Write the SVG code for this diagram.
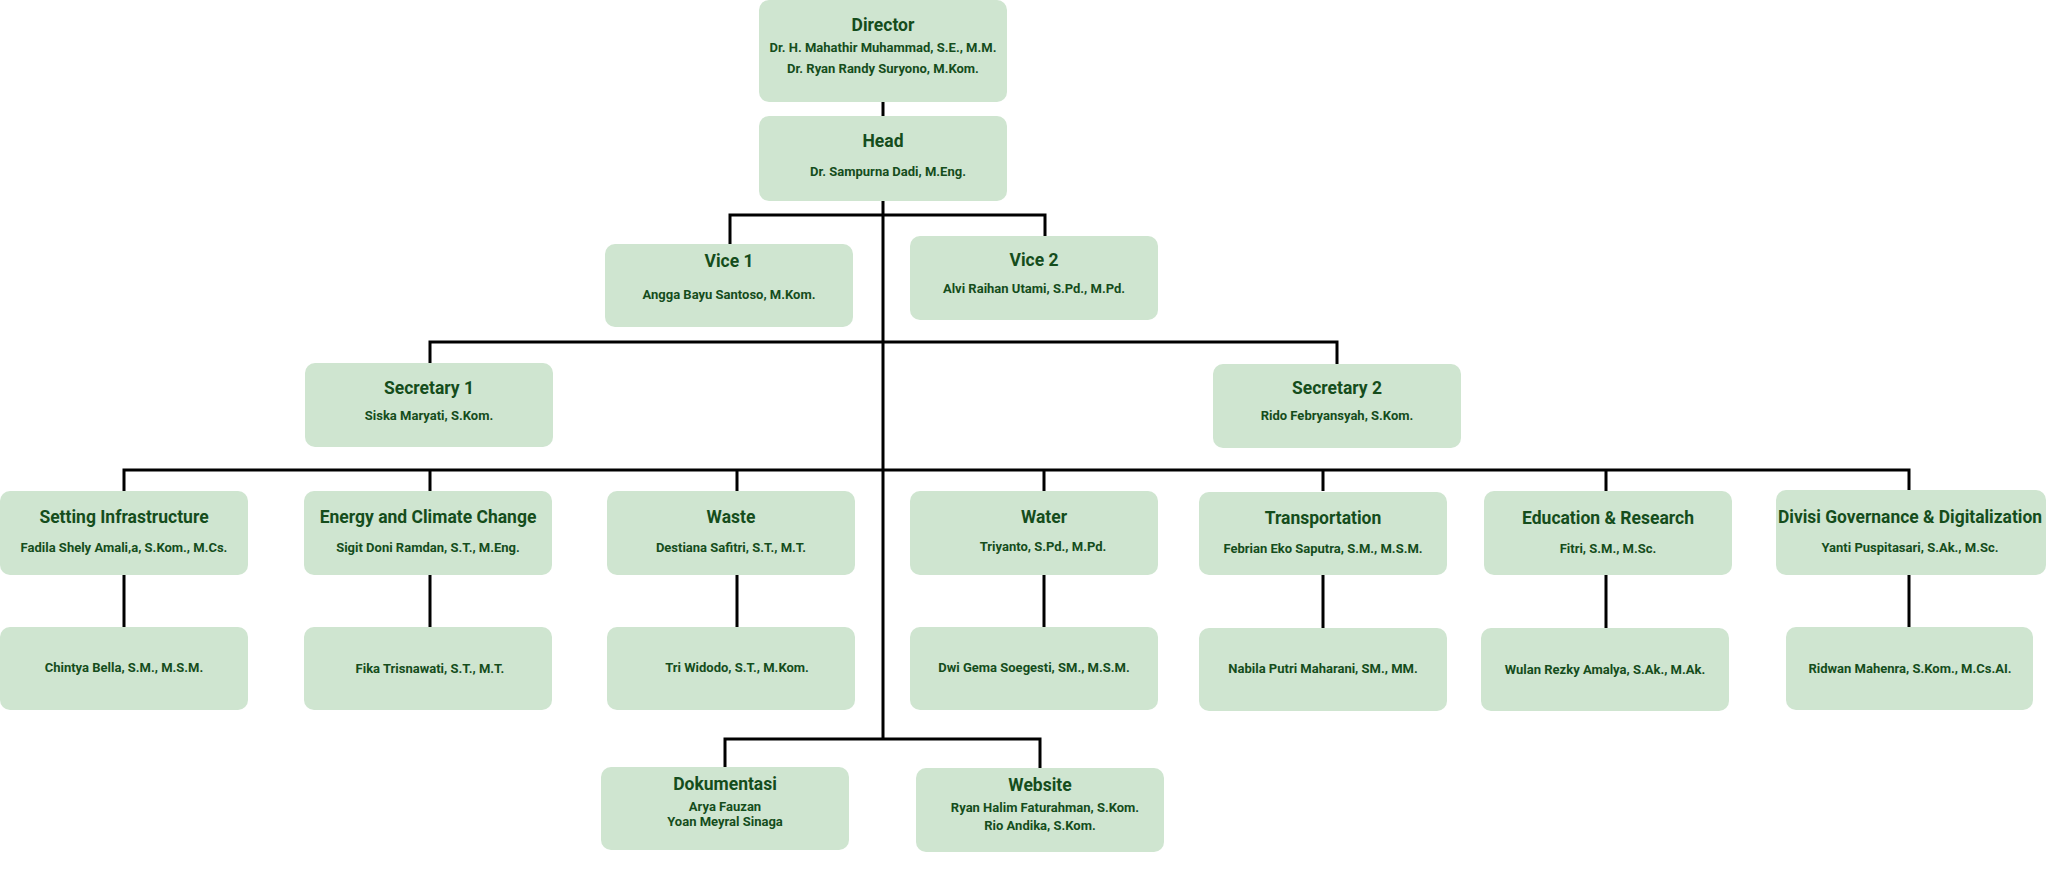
<svg xmlns="http://www.w3.org/2000/svg" width="2048" height="876" viewBox="0 0 2048 876">
<style>
.box{fill:#cfe5d0;}
.t{font-family:Roboto,"Liberation Sans",sans-serif;font-weight:700;font-size:17.5px;fill:#154d1c;text-anchor:middle;}
.n{font-family:Roboto,"Liberation Sans",sans-serif;font-weight:700;font-size:13px;fill:#154d1c;text-anchor:middle;}
.c{stroke:#000;stroke-width:3;fill:none;}
</style>
<rect width="2048" height="876" fill="#fff"/>
<g id="connectors" class="c">
<path d="M883 102V116"/>
<path d="M883 201V739"/>
<path d="M730 244V215H1045V236"/>
<path d="M430 363V342H1337V364"/>
<path d="M124 491V470H1909V491"/>
<path d="M430 470V491M737 470V491M1044 470V491M1323 470V491M1606 470V491"/>
<path d="M124 575V627M430 575V627M737 575V627M1044 575V627M1323 575V628M1606 575V628M1909 575V627"/>
<path d="M725 767V739H1040V768"/>
</g>
<g id="director"><rect class="box" x="759" y="0" width="248" height="102" rx="10"/>
<text class="t" x="883" y="31">Director</text>
<text class="n" x="883" y="52">Dr. H. Mahathir Muhammad, S.E., M.M.</text>
<text class="n" x="883" y="73">Dr. Ryan Randy Suryono, M.Kom.</text></g>
<g id="head"><rect class="box" x="759" y="116" width="248" height="85" rx="10"/>
<text class="t" x="883" y="147">Head</text>
<text class="n" x="888" y="176">Dr. Sampurna Dadi, M.Eng.</text></g>
<g id="vice1"><rect class="box" x="605" y="244" width="248" height="83" rx="10"/>
<text class="t" x="729" y="267">Vice 1</text>
<text class="n" x="729" y="299">Angga Bayu Santoso, M.Kom.</text></g>
<g id="vice2"><rect class="box" x="910" y="236" width="248" height="84" rx="10"/>
<text class="t" x="1034" y="266">Vice 2</text>
<text class="n" x="1034" y="293">Alvi Raihan Utami, S.Pd., M.Pd.</text></g>
<g id="secretary1"><rect class="box" x="305" y="363" width="248" height="84" rx="10"/>
<text class="t" x="429" y="394">Secretary 1</text>
<text class="n" x="429" y="420">Siska Maryati, S.Kom.</text></g>
<g id="secretary2"><rect class="box" x="1213" y="364" width="248" height="84" rx="10"/>
<text class="t" x="1337" y="394">Secretary 2</text>
<text class="n" x="1337" y="420">Rido Febryansyah, S.Kom.</text></g>
<g id="infra"><rect class="box" x="0" y="491" width="248" height="84" rx="10"/>
<text class="t" x="124" y="523">Setting Infrastructure</text>
<text class="n" x="124" y="552">Fadila Shely Amali,a, S.Kom., M.Cs.</text></g>
<g id="energy"><rect class="box" x="304" y="491" width="248" height="84" rx="10"/>
<text class="t" x="428" y="523">Energy and Climate Change</text>
<text class="n" x="428" y="552">Sigit Doni Ramdan, S.T., M.Eng.</text></g>
<g id="waste"><rect class="box" x="607" y="491" width="248" height="84" rx="10"/>
<text class="t" x="731" y="523">Waste</text>
<text class="n" x="731" y="552">Destiana Safitri, S.T., M.T.</text></g>
<g id="water"><rect class="box" x="910" y="491" width="248" height="84" rx="10"/>
<text class="t" x="1044" y="523">Water</text>
<text class="n" x="1043" y="551">Triyanto, S.Pd., M.Pd.</text></g>
<g id="transport"><rect class="box" x="1199" y="492" width="248" height="83" rx="10"/>
<text class="t" x="1323" y="524">Transportation</text>
<text class="n" x="1323" y="553">Febrian Eko Saputra, S.M., M.S.M.</text></g>
<g id="education"><rect class="box" x="1484" y="491" width="248" height="84" rx="10"/>
<text class="t" x="1608" y="524">Education &amp; Research</text>
<text class="n" x="1608" y="553">Fitri, S.M., M.Sc.</text></g>
<g id="governance"><rect class="box" x="1776" y="490" width="270" height="85" rx="10"/>
<text class="t" x="1910" y="523" textLength="264" lengthAdjust="spacingAndGlyphs">Divisi Governance &amp; Digitalization</text>
<text class="n" x="1910" y="552">Yanti Puspitasari, S.Ak., M.Sc.</text></g>
<g id="chintya"><rect class="box" x="0" y="627" width="248" height="83" rx="10"/>
<text class="n" x="124" y="672">Chintya Bella, S.M., M.S.M.</text></g>
<g id="fika"><rect class="box" x="304" y="627" width="248" height="83" rx="10"/>
<text class="n" x="430" y="673">Fika Trisnawati, S.T., M.T.</text></g>
<g id="tri"><rect class="box" x="607" y="627" width="248" height="83" rx="10"/>
<text class="n" x="737" y="672">Tri Widodo, S.T., M.Kom.</text></g>
<g id="dwi"><rect class="box" x="910" y="627" width="248" height="83" rx="10"/>
<text class="n" x="1034" y="672">Dwi Gema Soegesti, SM., M.S.M.</text></g>
<g id="nabila"><rect class="box" x="1199" y="628" width="248" height="83" rx="10"/>
<text class="n" x="1323" y="673">Nabila Putri Maharani, SM., MM.</text></g>
<g id="wulan"><rect class="box" x="1481" y="628" width="248" height="83" rx="10"/>
<text class="n" x="1605" y="674">Wulan Rezky Amalya, S.Ak., M.Ak.</text></g>
<g id="ridwan"><rect class="box" x="1786" y="627" width="247" height="83" rx="10"/>
<text class="n" x="1910" y="673">Ridwan Mahenra, S.Kom., M.Cs.AI.</text></g>
<g id="dokumentasi"><rect class="box" x="601" y="767" width="248" height="83" rx="10"/>
<text class="t" x="725" y="790">Dokumentasi</text>
<text class="n" x="725" y="811">Arya Fauzan</text>
<text class="n" x="725" y="826">Yoan Meyral Sinaga</text></g>
<g id="website"><rect class="box" x="916" y="768" width="248" height="84" rx="10"/>
<text class="t" x="1040" y="791">Website</text>
<text class="n" x="1045" y="812">Ryan Halim Faturahman, S.Kom.</text>
<text class="n" x="1040" y="830">Rio Andika, S.Kom.</text></g>
</svg>
